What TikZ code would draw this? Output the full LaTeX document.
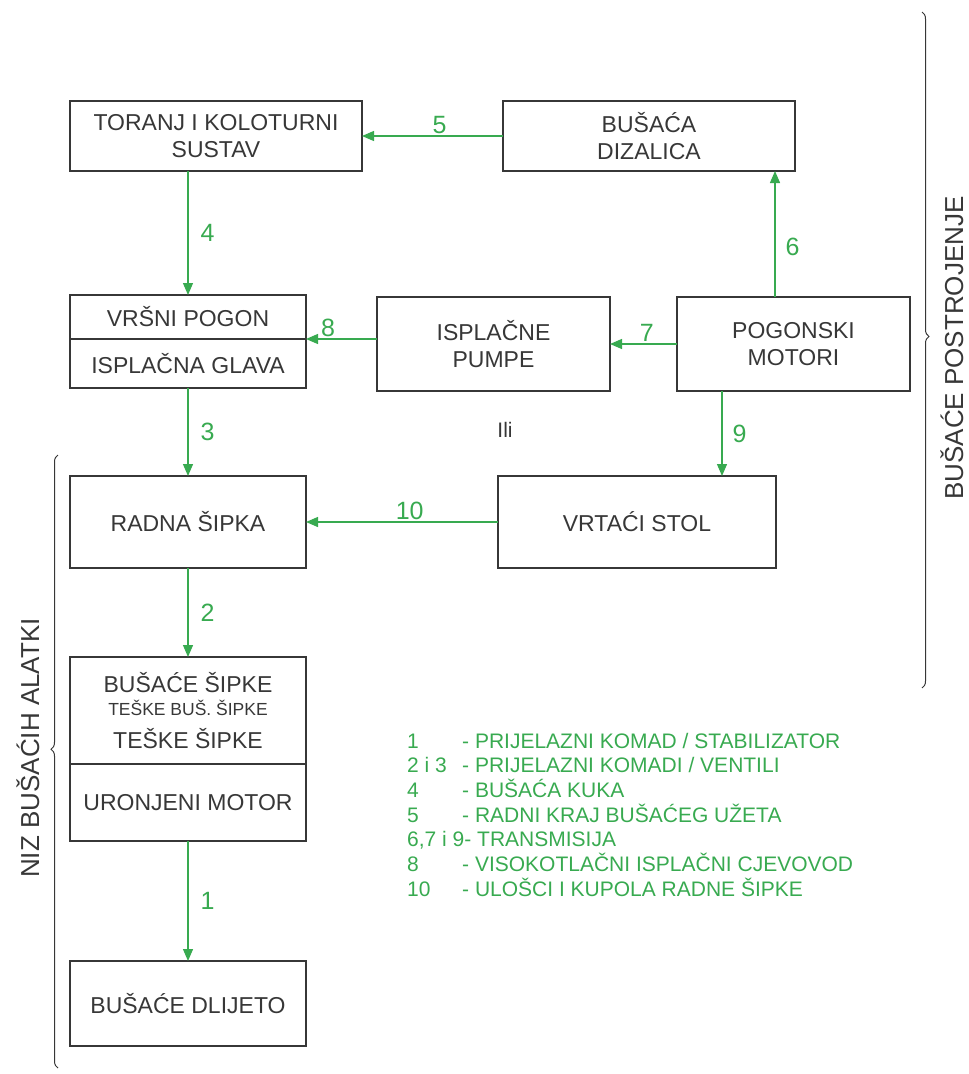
\documentclass[tikz,border=0pt]{standalone}
\usepackage{fontspec}
\setmainfont{Liberation Sans}
\usepackage{xcolor}
\usepackage{tikz}
\usetikzlibrary{arrows.meta,positioning,decorations.pathreplacing}
\definecolor{zelena}{RGB}{56,170,80}
\definecolor{siva}{RGB}{55,55,55}
\tikzset{
  block/.style={rectangle, draw=siva, line width=1.5pt, text=siva, align=center, outer sep=0pt, inner sep=2pt, minimum width=236pt, font=\fontsize{23}{27}\selectfont},
  line/.style={-{Triangle[length=12pt,width=10pt]}, zelena, line width=1.3pt},
  num/.style={text=zelena, font=\fontsize{25}{28}\selectfont, inner sep=2pt},
  legend/.style={text=zelena, font=\fontsize{21}{24}\selectfont, anchor=base west, inner sep=0pt},
  zagrada/.style={decorate, decoration={brace, amplitude=7pt, aspect=#1}, siva, line width=1pt},
  sidelabel/.style={text=siva, rotate=90, font=\fontsize{26}{30}\selectfont}
}

\begin{document}
\begin{tikzpicture}[x=1pt, y=-1pt]
  \useasboundingbox (0,0) rectangle (969,1074);
  % gornji red
  \node[block, anchor=north west, minimum width=292pt, minimum height=70pt] (toranj) at (70,101) {TORANJ I KOLOTURNI\\SUSTAV};
  \node[block, right=141pt of toranj, minimum width=292pt, minimum height=70pt] (dizalica) {BUŠAĆA\\DIZALICA};
  % srednji red
  \node[block, anchor=north west, minimum height=44pt] (vrsni) at (70,295) {VRŠNI POGON};
  \node[block, below=0pt of vrsni, minimum height=49pt] (glava) {ISPLAČNA GLAVA};
  \node[block, anchor=north west, minimum width=233pt, minimum height=94pt] (pumpe) at (377,297) {ISPLAČNE\\PUMPE};
  \node[block, right=67pt of pumpe, minimum width=233pt, minimum height=94pt] (pogonski) {POGONSKI\\MOTORI};
  \node[block, anchor=north west, minimum height=92pt] (radna) at (70,476) {RADNA ŠIPKA};
  \node[block, right=192pt of radna, minimum width=278pt, minimum height=92pt] (vrtaci) {VRTAĆI STOL};
  % niz alatki
  \node[block, below=89pt of radna, minimum height=107pt] (sipke) {BUŠAĆE ŠIPKE\\[-4pt]{\fontsize{17.5}{20}\selectfont TEŠKE BUŠ. ŠIPKE}\\[6pt]TEŠKE ŠIPKE};
  \node[block, below=0pt of sipke, minimum height=77pt] (uronjeni) {URONJENI MOTOR};
  \node[block, below=120pt of uronjeni, minimum height=85pt] (dlijeto) {BUŠAĆE DLIJETO};

  % veze
  \draw[line] (dizalica.west) -- node[num, above, pos=0.45] (n5) {5} (toranj.east);
  \draw[line] (vrsni.north |- toranj.south) -- node[num, right=10pt] (n4) {4} (vrsni.north);
  \draw[line] ([xshift=98pt]pogonski.north west) -- node[num, right=8pt, pos=0.4] (n6) {6} ([xshift=98pt]pogonski.north west |- dizalica.south);
  \draw[line] (pogonski.west) -- node[num, above, pos=0.45] (n7) {7} (pumpe.east);
  \draw[line] (pumpe.west |- vrsni.south) -- node[num, above, pos=0.69] (n8) {8} (vrsni.south east);
  \draw[line] (glava.south) -- node[num, right=10pt] (n3) {3} (radna.north);
  \draw[line] ([xshift=45pt]pogonski.south west) -- node[num, right=8pt] (n9) {9} ([xshift=45pt]pogonski.south west |- vrtaci.north);
  \draw[line] (vrtaci.west) -- node[num, above, pos=0.46] (n10) {10} (radna.east);
  \draw[line] (radna.south) -- node[num, right=10pt] (n2) {2} (sipke.north);
  \draw[line] (uronjeni.south) -- node[num, right=10pt] (n1) {1} (dlijeto.north);

  \node[text=siva, font=\fontsize{21}{24}\selectfont] (ili) at (505,430) {Ili};

  % zagrade
  \draw[zagrada=0.48] (922,12) -- (922,688);
  \draw[zagrada=0.52] (58,1068) -- (58,455);
  \node[sidelabel] (postrojenje) at (952,348) {BUŠAĆE POSTROJENJE};
  \node[sidelabel] (alatke) at (28,748) {NIZ BUŠAĆIH ALATKI};

  % legenda
  \node[legend] (leg1) at (407,748) {1};
  \node[legend] (opis1) at (462,748) {- PRIJELAZNI KOMAD / STABILIZATOR};
  \node[legend] (leg2) at (407,772) {2 i 3};
  \node[legend] (opis2) at (462,772) {- PRIJELAZNI KOMADI / VENTILI};
  \node[legend] (leg3) at (407,797) {4};
  \node[legend] (opis3) at (462,797) {- BUŠAĆA KUKA};
  \node[legend] (leg4) at (407,822) {5};
  \node[legend] (opis4) at (462,822) {- RADNI KRAJ BUŠAĆEG UŽETA};
  \node[legend] (leg5) at (407,846) {6,7 i 9-};
  \node[legend] (opis5) at (477,846) {TRANSMISIJA};
  \node[legend] (leg6) at (407,871) {8};
  \node[legend] (opis6) at (462,871) {- VISOKOTLAČNI ISPLAČNI CJEVOVOD};
  \node[legend] (leg7) at (407,896) {10};
  \node[legend] (opis7) at (462,896) {- ULOŠCI I KUPOLA RADNE ŠIPKE};
\end{tikzpicture}
\end{document}
